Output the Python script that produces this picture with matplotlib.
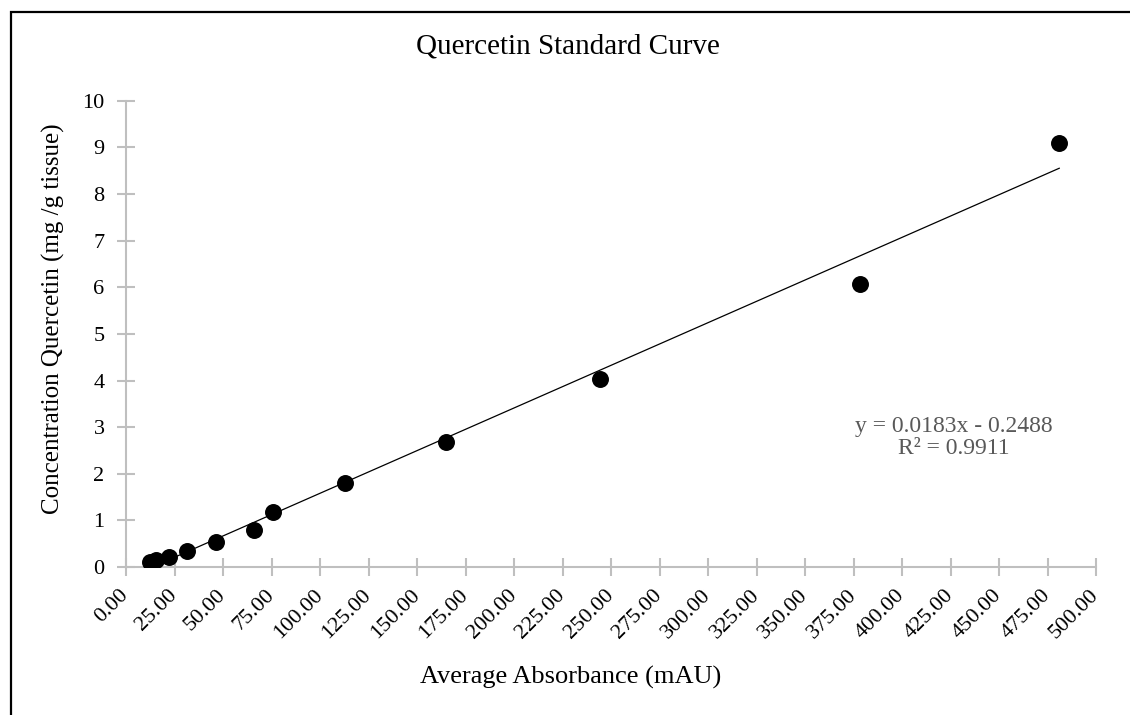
import matplotlib
matplotlib.use("Agg")
import matplotlib.pyplot as plt
import numpy as np

# data
absorbance = [12.4, 15.5, 22.3, 31.3, 46.4, 66.2, 76.0, 112.9, 165.0, 244.5, 378.5, 481.0]
concentration = [0.11, 0.16, 0.22, 0.35, 0.53, 0.80, 1.19, 1.80, 2.69, 4.04, 6.06, 9.10]
slope = 0.0183
intercept = -0.2488
x_ticks = np.arange(0, 501, 25)
y_ticks = np.arange(0, 11, 1)

plt.rcParams["font.family"] = ["Liberation Serif", "DejaVu Serif"]
axis_gray = "#bfbfbf"

fig = plt.figure(figsize=(11.3, 7.15), dpi=100)
ax = fig.add_axes([0.1115, 0.207, 0.8585, 0.652])

ax.scatter(absorbance, concentration, s=125, color="black", zorder=3)

fit_x = np.array([min(absorbance), max(absorbance)])
ax.plot(fit_x, slope * fit_x + intercept, color="black", linewidth=0.9, zorder=2)

ax.set_xlim(0, 500)
ax.set_ylim(0, 10)
ax.set_xticks(x_ticks)
ax.set_xticklabels([f"{v:.2f}" for v in x_ticks], rotation=45, ha="right",
                   va="center", rotation_mode="anchor")
ax.set_yticks(y_ticks)

for side in ["top", "right"]:
    ax.spines[side].set_visible(False)
for side in ["left", "bottom"]:
    ax.spines[side].set_color(axis_gray)
    ax.spines[side].set_linewidth(1.5)
ax.tick_params(axis="both", direction="inout", length=13, width=1.5,
               color=axis_gray, labelsize=16, labelcolor="black")
ax.tick_params(axis="x", pad=12)
ax.tick_params(axis="y", pad=9)

fig.text(0.505, 1 - 677 / 715, "Average Absorbance (mAU)", ha="center", va="center", fontsize=19)
fig.text(53 / 1130, 1 - 319 / 715, "Concentration Quercetin (mg /g tissue)", ha="center",
         va="center", rotation=90, fontsize=18)
fig.text(568 / 1130, 1 - 54 / 715, "Quercetin Standard Curve", ha="center", va="baseline", fontsize=21)

ax.text(0.853, 0.278, "y = 0.0183x - 0.2488\nR\u00b2 = 0.9911", transform=ax.transAxes,
        ha="center", va="center", fontsize=17, color="#595959", linespacing=1.05)

# chart border (only left and top edges are inside the image)
border = plt.Rectangle((11 / 1130, -0.05), 1.1, 1 - 12 / 715 + 0.05, transform=fig.transFigure,
                       fill=False, edgecolor="black", linewidth=1.6)
fig.patches.append(border)

fig.savefig("out.png", dpi=100)
